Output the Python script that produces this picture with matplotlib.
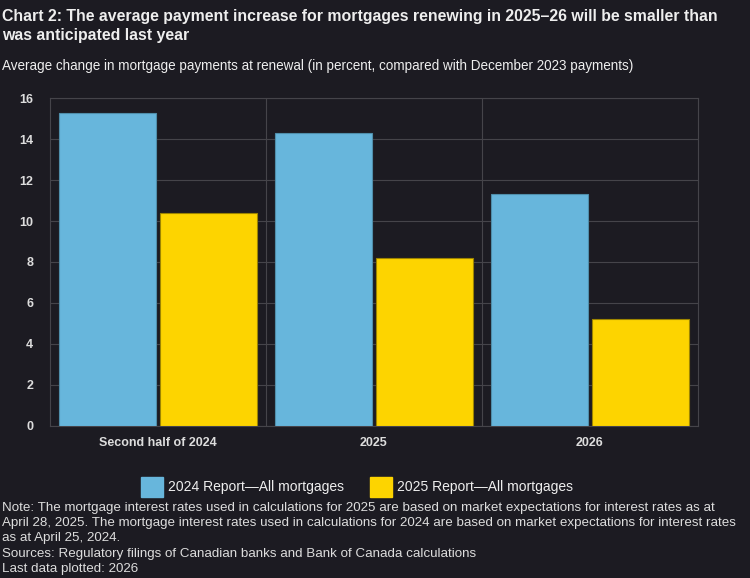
import matplotlib
matplotlib.use('Agg')
import matplotlib.pyplot as plt
from matplotlib.patches import Patch
import numpy as np

plt.rcParams['font.family'] = ['Liberation Sans', 'DejaVu Sans']

categories = ['Second half of 2024', '2025', '2026']
report_2024 = [15.3, 14.3, 11.3]
report_2025 = [10.4, 8.2, 5.2]
series_names = ['2024 Report\u2014All mortgages', '2025 Report\u2014All mortgages']
yticks = [0, 2, 4, 6, 8, 10, 12, 14, 16]

bg = '#1c1b22'
txt = '#eeeeee'
blue = '#67b6dc'
yellow = '#fdd400'
grid_c = '#45444a'

fig = plt.figure(figsize=(7.5, 5.78), dpi=100, facecolor=bg)
ax = fig.add_axes([50 / 750, 1 - 425.7 / 578, 648 / 750, 327.4 / 578])
ax.set_facecolor(bg)

x = np.arange(len(categories))
w = 0.447
ax.bar(x - w / 2 - 0.01, report_2024, width=w, color=blue, edgecolor='#4f8eaa', linewidth=0.8, zorder=3)
ax.bar(x + w / 2 + 0.01, report_2025, width=w, color=yellow, edgecolor='#9c8400', linewidth=0.8, zorder=3)

ax.set_xlim(-0.5, len(categories) - 0.5)
ax.set_ylim(0, 16)
ax.set_yticks(yticks)
ax.set_yticklabels([str(t) for t in yticks])
ax.set_xticks(x)
ax.set_xticklabels(categories)
# vertical grid lines at category boundaries
for b in np.arange(0.5, len(categories) - 0.5, 1):
    ax.axvline(b, color=grid_c, linewidth=0.8, zorder=0)
ax.grid(axis='y', color=grid_c, linewidth=0.8, zorder=0)
for s in ax.spines.values():
    s.set_color(grid_c)
    s.set_linewidth(0.8)
ax.tick_params(axis='both', length=0, colors=txt, labelsize=9)
ax.tick_params(axis='x', pad=8)
ax.tick_params(axis='y', pad=12)
for lbl in ax.get_xticklabels() + ax.get_yticklabels():
    lbl.set_fontweight('bold')
    lbl.set_color('#dddddd')

fig.text(0.003, 1 - 9 / 578, 'Chart 2: The average payment increase for mortgages renewing in 2025\u201326 will be smaller than\nwas anticipated last year',
         color=txt, fontsize=11.4, fontweight='bold', va='top', linespacing=1.3)
fig.text(0.003, 1 - 70 / 578, 'Average change in mortgage payments at renewal (in percent, compared with December 2023 payments)',
         color=txt, fontsize=9.75, va='baseline')

handles = [Patch(facecolor=blue, edgecolor=blue), Patch(facecolor=yellow, edgecolor=yellow)]
fig.legend(handles, series_names, loc='center', bbox_to_anchor=(357 / 750, 1 - 487 / 578), ncol=2,
           frameon=False, fontsize=10, labelcolor=txt, handlelength=1.6, handleheight=1.9,
           handletextpad=0.4, columnspacing=1.8)

notes = ('Note: The mortgage interest rates used in calculations for 2025 are based on market expectations for interest rates as at\n'
         'April 28, 2025. The mortgage interest rates used in calculations for 2024 are based on market expectations for interest rates\n'
         'as at April 25, 2024.\n'
         'Sources: Regulatory filings of Canadian banks and Bank of Canada calculations\n'
         'Last data plotted: 2026')
fig.text(0.003, 1 - 502 / 578, notes, color='#dddddd', fontsize=9.6, va='top', linespacing=1.36)

fig.savefig('out.png', dpi=100, facecolor=bg)
